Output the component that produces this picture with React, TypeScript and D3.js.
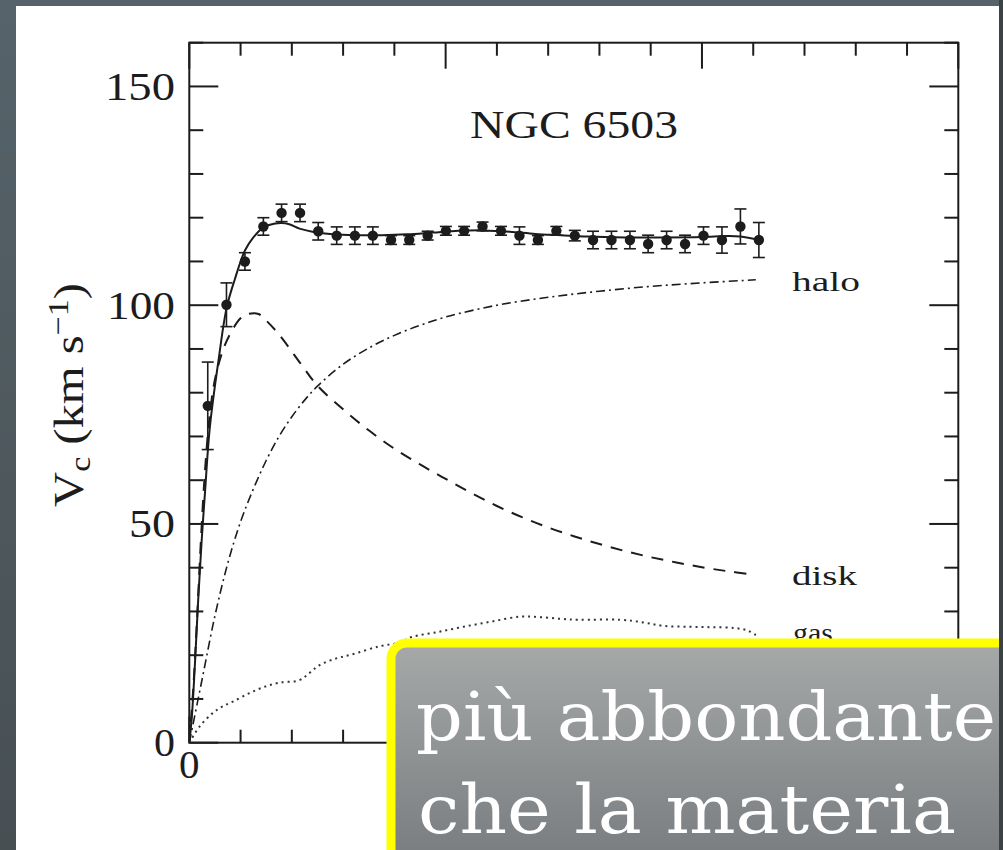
import React from "react";
import * as d3 from "d3";

// ---------- data (radius in kpc, velocity in km/s) ----------
const obsR = [0.72, 1.45, 2.17, 2.89, 3.6, 4.32, 5.03, 5.75, 6.46, 7.16, 7.87, 8.58, 9.3, 10.01, 10.72, 11.44, 12.16, 12.88, 13.6, 14.32, 15.04, 15.75, 16.47, 17.19, 17.9, 18.62, 19.34, 20.06, 20.78, 21.5, 22.22];
const obsV = [77, 100.1, 110, 118, 121.1, 121.1, 116.9, 115.9, 115.9, 115.9, 114.9, 114.9, 115.9, 117, 117, 118, 117, 115.9, 114.9, 117, 115.9, 114.9, 114.9, 114.9, 114, 114.9, 114, 115.9, 114.9, 118, 114.9];
const obsErr = [10, 5, 2, 2, 2, 2, 2, 2, 2, 2, 1, 1, 1, 1, 1, 1, 1, 2, 1, 1, 1.2, 2, 2, 2, 2, 2, 2, 2, 3, 4, 4];

const fitR = [0, 0.1, 0.22, 0.35, 0.48, 0.61, 0.8, 1.13, 1.46, 1.78, 2.17, 2.5, 2.89, 3.3, 3.6, 3.9, 4.3, 4.8, 5.5, 6.5, 7.5, 8.5, 9.5, 10.5, 11.5, 12.5, 13.5, 14.5, 15.5, 17, 18.5, 20, 21, 21.5, 22.25];
const fitV = [0, 6, 18, 33, 46, 57, 72, 87, 99.5, 106, 112.5, 115.5, 117.8, 118.6, 118.8, 118.5, 117.5, 116.8, 116.3, 116, 116, 116.2, 116.6, 117, 117.1, 116.8, 116.3, 116, 115.7, 115.5, 115.5, 115.6, 115.8, 115.7, 114.9];

const diskR = [0, 0.15, 0.3, 0.45, 0.61, 0.8, 1.0, 1.3, 1.6, 2.0, 2.3, 2.7, 3.0, 3.5, 4.4, 5, 6, 7, 8, 9, 10, 11, 12, 13, 14, 15, 16, 17, 18, 19, 20, 21, 21.9];
const diskV = [0, 12, 28, 46, 62, 75, 83, 89.5, 93.5, 97, 98, 98, 96.5, 93.3, 86.2, 81.6, 76.2, 71.4, 67.2, 63.6, 60.3, 57.1, 54.1, 51.5, 49.2, 47.2, 45.4, 43.8, 42.4, 41.2, 40.1, 39.2, 38.5];

const haloR = [0, 0.5, 1, 1.5, 2, 2.5, 3, 3.5, 4, 4.5, 5, 6, 7, 8, 9, 10, 12, 14, 16, 18, 20, 22.1];
const haloV = [0, 14.5, 29, 41, 50.5, 58, 64.5, 70, 74.5, 78.3, 81.5, 86.5, 90.2, 93.1, 95.4, 97.3, 100, 101.8, 103.2, 104.3, 105.1, 105.8];

const gasR = [0, 0.4, 0.9, 1.3, 1.7, 2.3, 2.9, 3.5, 4.3, 4.7, 5.1, 5.7, 6.3, 7.4, 8.2, 8.7, 9.7, 10.7, 11.8, 12.9, 13.7, 14.5, 15.2, 16.8, 17.7, 18.5, 19.5, 20.4, 21.3, 21.8, 22.1];
const gasV = [0, 3.7, 6.7, 8.3, 9.4, 11.2, 12.7, 13.7, 14.3, 16, 17.8, 19.2, 20.1, 22, 22.9, 24.2, 25.3, 26.5, 27.7, 28.8, 28.7, 28.3, 28.1, 28.1, 27.5, 26.7, 26.5, 26.4, 26.2, 25.6, 24.6];

const yTickVals = [0, 50, 100, 150];
const yTickLabels = ["0", "50", "100", "150"];
const xTickVals = [0];
const xTickLabels = ["0"];
const curveLabels = ["halo", "disk", "gas"];
const title = "NGC 6503";
const overlayLines = ["più abbondante", "che la materia"];

const W = 1003;
const H = 850;

export default function App() {
  const x = d3.scaleLinear().domain([0, 30]).range([189.3, 958.3]);
  const y = d3.scaleLinear().domain([0, 160]).range([742.7, 42.7]);
  const x0 = x(0), x1 = x(30), y0 = y(0), y1 = y(160);

  const mk = (R: number[], V: number[], curve: d3.CurveFactory) =>
    d3.line<number>().x((_, i) => x(R[i])).y((_, i) => y(V[i])).curve(curve)(R.map((_, i) => i)) || "";

  const smooth = d3.curveCatmullRom.alpha(0.5);
  const fitPath = mk(fitR, fitV, smooth);
  const diskPath = mk(diskR, diskV, smooth);
  const haloPath = mk(haloR, haloV, smooth);
  const gasPath = mk(gasR, gasV, smooth);

  const ink = "#1c1c1c";
  const serif = "'Liberation Serif', 'Times New Roman', serif";

  const xMinor = d3.range(0, 31, 2);
  const yMinor = d3.range(0, 161, 10);
  const isXMajor = (v: number) => v % 10 === 0;
  const isYMajor = (v: number) => v % 50 === 0;

  const yLabelWidths: Record<string, number> = { "0": 21, "50": 46, "100": 68, "150": 70 };

  return (
    <div style={{ position: "absolute", left: 0, top: 0 }}>
      <svg width={W} height={H} style={{ display: "block" }}>
        <defs>
          <linearGradient id="bg" x1="0" y1="0" x2="0" y2="1">
            <stop offset="0" stopColor="#56636a" />
            <stop offset="1" stopColor="#474f53" />
          </linearGradient>
          <linearGradient id="box" x1="0" y1="0" x2="0" y2="1">
            <stop offset="0" stopColor="#a6a9a8" />
            <stop offset="1" stopColor="#75787b" />
          </linearGradient>
          <clipPath id="plotclip">
            <rect x={x0} y={y1} width={x1 - x0} height={y0 - y1} />
          </clipPath>
        </defs>
        <rect x={0} y={0} width={W} height={H} fill="url(#bg)" />
        <rect x={16} y={6} width={983} height={H - 6} fill="#ffffff" />

        {/* frame */}
        <rect x={x0} y={y1} width={x1 - x0} height={y0 - y1} fill="none" stroke={ink} strokeWidth={2} />

        {/* x ticks top & bottom */}
        {xMinor.map((v) => {
          const len = isXMajor(v) ? 26 : 13;
          return (
            <g key={"xt" + v}>
              <line x1={x(v)} x2={x(v)} y1={y1} y2={y1 + len} stroke={ink} strokeWidth={2} />
              <line x1={x(v)} x2={x(v)} y1={y0} y2={y0 - len} stroke={ink} strokeWidth={2} />
            </g>
          );
        })}
        {/* y ticks left & right */}
        {yMinor.map((v) => {
          const len = isYMajor(v) ? 29 : 14;
          return (
            <g key={"yt" + v}>
              <line x1={x0} x2={x0 + len} y1={y(v)} y2={y(v)} stroke={ink} strokeWidth={2} />
              <line x1={x1} x2={x1 - len} y1={y(v)} y2={y(v)} stroke={ink} strokeWidth={2} />
            </g>
          );
        })}

        {/* y tick labels */}
        {yTickVals.map((v, i) => {
          const w = yLabelWidths[yTickLabels[i]];
          return (
            <text key={"yl" + v} x={175 - w} y={y(v) + 13.5} fontFamily={serif} fontSize={41} fill={ink}
              textLength={w} lengthAdjust="spacingAndGlyphs">
              {yTickLabels[i]}
            </text>
          );
        })}
        {/* x tick labels (only the visible one) */}
        {xTickVals.map((v, i) => (
          <text key={"xl" + v} x={x(v)} y={778} fontFamily={serif} fontSize={41} fill={ink} textAnchor="middle">
            {xTickLabels[i]}
          </text>
        ))}

        {/* y axis title */}
        <text transform="translate(83,395) rotate(-90)" textAnchor="middle" fontFamily={serif} fontSize={43} fill={ink}
          textLength={224} lengthAdjust="spacingAndGlyphs">
          V<tspan fontSize={30} dy={7}>c</tspan>
          <tspan dy={-7}> (km s</tspan>
          <tspan fontSize={30} dy={-15}>−1</tspan>
          <tspan dy={15}>)</tspan>
        </text>

        {/* title */}
        <text x={470} y={138} fontFamily={serif} fontSize={40} fill={ink} textLength={208} lengthAdjust="spacingAndGlyphs">
          {title}
        </text>

        {/* model curves */}
        <g clipPath="url(#plotclip)" fill="none">
          <path d={haloPath} stroke={ink} strokeWidth={1.6} strokeDasharray="9,4,2,4" />
          <path d={diskPath} stroke={ink} strokeWidth={2} strokeDasharray="12,9" />
          <path d={gasPath} stroke="#333" strokeWidth={2} strokeDasharray="2,4" />
          <path d={fitPath} stroke={ink} strokeWidth={2} />
        </g>

        {/* curve labels */}
        <text x={792} y={291} fontFamily={serif} fontSize={28} fill={ink} textLength={68} lengthAdjust="spacingAndGlyphs">{curveLabels[0]}</text>
        <text x={792} y={585} fontFamily={serif} fontSize={28} fill={ink} textLength={65} lengthAdjust="spacingAndGlyphs">{curveLabels[1]}</text>
        <text x={793} y={642} fontFamily={serif} fontSize={28} fill={ink} textLength={40} lengthAdjust="spacingAndGlyphs">{curveLabels[2]}</text>

        {/* observed points with error bars */}
        {obsR.map((r, i) => {
          const cx = x(r);
          const cy = y(obsV[i]);
          const top = y(obsV[i] + obsErr[i]);
          const bot = y(obsV[i] - obsErr[i]);
          return (
            <g key={"p" + i}>
              <line x1={cx} x2={cx} y1={top} y2={bot} stroke={ink} strokeWidth={1.6} />
              <line x1={cx - 6} x2={cx + 6} y1={top} y2={top} stroke={ink} strokeWidth={1.6} />
              <line x1={cx - 6} x2={cx + 6} y1={bot} y2={bot} stroke={ink} strokeWidth={1.6} />
              <circle cx={cx} cy={cy} r={5.2} fill={ink} />
            </g>
          );
        })}

        {/* overlay callout */}
        <rect x={391} y={643} width={640} height={240} rx={16} ry={16} fill="url(#box)" stroke="#ffff00" strokeWidth={9} />
        <text x={416} y={740} fontFamily="'DejaVu Serif', serif" fontSize={68} fill="#ffffff"
          textLength={580} lengthAdjust="spacingAndGlyphs">{overlayLines[0]}</text>
        <text x={418} y={833} fontFamily="'DejaVu Serif', serif" fontSize={68} fill="#ffffff"
          textLength={538} lengthAdjust="spacingAndGlyphs">{overlayLines[1]}</text>

        {/* right dark edge */}
        <rect x={999} y={0} width={4} height={H} fill="#3a4246" />
      </svg>
    </div>
  );
}
